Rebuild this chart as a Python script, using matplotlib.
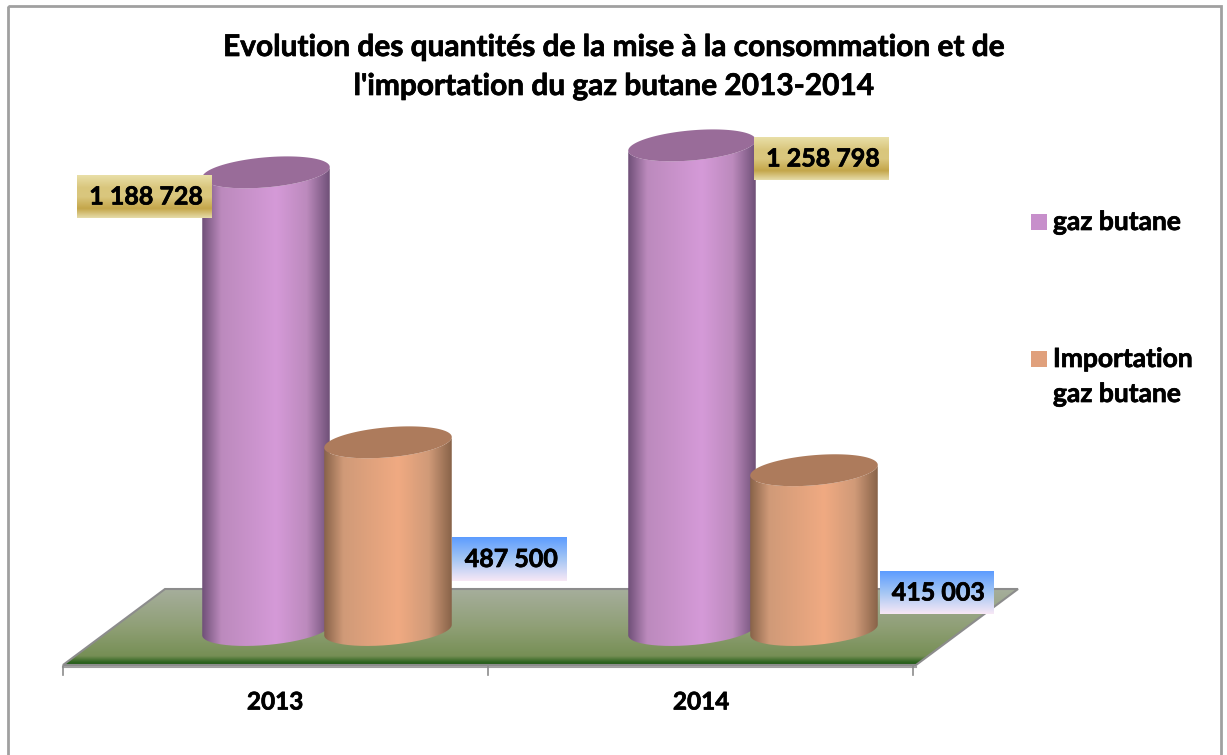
import matplotlib
matplotlib.use('Agg')
import matplotlib.pyplot as plt
import matplotlib.patheffects as pe
import numpy as np
from matplotlib.colors import LinearSegmentedColormap
from matplotlib.path import Path
from matplotlib.patches import PathPatch, Polygon, Rectangle

# --- Data ---
years = ['2013', '2014']
gaz_butane = [1188728, 1258798]
importation = [487500, 415003]

# --- Geometry (pixels of the 1227x755 picture) ---
W, H = 1227, 755
BASE_PX = 630       # where value 0 sits
PX_PER_UNIT = 0.000385
CAT_PX = [275, 701]  # category centres on the floor front edge
A, B, TILT = 64, 15, np.radians(5)

plt.rcParams['font.family'] = ['Lato', 'DejaVu Sans']
plt.rcParams['font.weight'] = 'bold'

fig = plt.figure(figsize=(W / 100, H / 100), dpi=100, facecolor='white')
THICK = [pe.withStroke(linewidth=0.5, foreground='black')]


def px_axes(z):
    a = fig.add_axes([0, 0, 1, 1], zorder=z)
    a.set_xlim(0, W)
    a.set_ylim(H, 0)
    a.axis('off')
    return a


def vgrad(a, x0, x1, y0, y1, stops, clip=None):
    cmap = LinearSegmentedColormap.from_list('g', stops)
    im = a.imshow(np.linspace(0, 1, 256).reshape(-1, 1), cmap=cmap, aspect='auto',
                  extent=[x0, x1, y1, y0], vmin=0, vmax=1, interpolation='bilinear')
    if clip is not None:
        im.set_clip_path(clip)
    return im


# --- Background layer: frame, floor, axis ---
bg = px_axes(1)
bg.add_patch(Rectangle((8, 6), 1213, 760, fill=False, ec='#a0a0a0', lw=2))

floor = Polygon([(63, 665), (165, 589), (1018, 589), (916, 665)], closed=True,
                fc='none', ec='#8c8c8c', lw=1.5, transform=bg.transData)
bg.add_patch(floor)
vgrad(bg, 63, 1018, 589, 666,
      [(0, '#a6ae9c'), (0.5, '#8f9f75'), (0.87, '#768f55'), (0.95, '#2e6420'), (1, '#1c5414')],
      clip=floor)
bg.set_xlim(0, W)
bg.set_ylim(H, 0)

bg.plot([63, 916], [666.5, 666.5], color='#a0a0a0', lw=1.5)
for tx in [63, 488, 913]:
    bg.plot([tx, tx], [666, 675], color='#8c8c8c', lw=1.2)
for px, year in zip(CAT_PX, years):
    bg.text(px, 702, year, ha='center', va='center', fontsize=17.5, color='black',
            path_effects=THICK)

# --- Cylinder layer, in value units ---
ax = fig.add_axes([0, 0, 1, 1], zorder=2)
ax.patch.set_visible(False)
ax.axis('off')
xlim = ((0 - CAT_PX[0]) / (CAT_PX[1] - CAT_PX[0]), (W - CAT_PX[0]) / (CAT_PX[1] - CAT_PX[0]))
ylim = ((BASE_PX - H) / PX_PER_UNIT, BASE_PX / PX_PER_UNIT)
PX_PER_CAT = CAT_PX[1] - CAT_PX[0]


def ellipse(t):
    # offsets in pixels, y down, right side raised by the tilt
    ex = A * np.cos(t) * np.cos(TILT) + B * np.sin(t) * np.sin(TILT)
    ey = -A * np.cos(t) * np.sin(TILT) + B * np.sin(t) * np.cos(TILT)
    return ex, ey


def cylinder(cat, shift_px, value, side, mid, cap, z):
    cx = cat + shift_px / PX_PER_CAT
    t_all = np.linspace(0, 2 * np.pi, 121)
    ex, ey = ellipse(t_all)
    i_r, i_l = np.argmax(ex), np.argmin(ex)
    t_r, t_l = t_all[i_r], t_all[i_l]
    t_low = np.linspace(t_r, t_l, 80)   # lower arc, right to left
    lx, ly = ellipse(t_low)
    to_x = lambda o: cx + o / PX_PER_CAT
    to_y = lambda o: -o / PX_PER_UNIT

    # body: lower arc of the base, then up the left side and along the top
    up_x = lx[::-1]
    up_y = ly[::-1]
    xs = np.concatenate([to_x(lx), to_x(up_x)])
    ys = np.concatenate([to_y(ly), value + to_y(up_y)])
    body = PathPatch(Path(np.column_stack([xs, ys]), closed=False), fc='none', ec='none',
                     transform=ax.transData, zorder=z)
    ax.add_patch(body)
    cmap = LinearSegmentedColormap.from_list(
        'c', [(0, side), (0.15, mid[0]), (0.58, mid[1]), (0.82, mid[0]), (1, side)])
    im = ax.imshow(np.linspace(0, 1, 256).reshape(1, -1), cmap=cmap, aspect='auto',
                   extent=[to_x(ex.min()), to_x(ex.max()), to_y(ly.max()), value + to_y(ly.min())],
                   vmin=0, vmax=1, zorder=z, interpolation='bilinear')
    im.set_clip_path(body)
    ax.add_patch(Polygon(np.column_stack([to_x(ex), value + to_y(ey)]), closed=True,
                         fc=cap, ec='none', zorder=z + 0.5))


for i in range(len(years)):
    cylinder(i, -9, gaz_butane[i], '#6f5078', ('#bc8abd', '#d59ad8'), '#996c99', 2)
    cylinder(i, 113, importation[i], '#886349', ('#d09a78', '#f0aa82'), '#ad7b5c', 3)

ax.set_xlim(*xlim)
ax.set_ylim(*ylim)

# --- Top layer: data labels, legend, title ---
top = px_axes(3)
GOLD = [(0, '#e9dfa8'), (0.3, '#d9c67c'), (0.5, '#dac77e'), (0.78, '#c4a64a'), (1, '#e6dcaa')]
BLUE = [(0, '#5c9cff'), (0.5, '#a4c6f4'), (1, '#f8e8f6')]
label_boxes = [(77, 212, 175, 218), (754, 889, 137, 180), (452, 567, 537, 581), (880, 994, 571, 614)]
label_values = gaz_butane + importation
label_stops = [GOLD, GOLD, BLUE, BLUE]
for (x0, x1, y0, y1), v, stops in zip(label_boxes, label_values, label_stops):
    vgrad(top, x0, x1, y0, y1, stops)
    top.text(x1 - 9, (y0 + y1) / 2 + 0.5, f'{v:,}'.replace(',', ' '), ha='right', va='center',
             fontsize=18, color='black', path_effects=THICK)

top.add_patch(Rectangle((1031, 214), 16, 16, fc='#c78fcb', ec='none'))
top.add_patch(Rectangle((1031, 351), 16, 16, fc='#e0a07c', ec='none'))
top.text(1053, 222, 'gaz butane', ha='left', va='center', fontsize=19, color='black', path_effects=THICK)
top.text(1053, 359, 'Importation', ha='left', va='center', fontsize=19, color='black', path_effects=THICK)
top.text(1053, 394, 'gaz butane', ha='left', va='center', fontsize=19, color='black', path_effects=THICK)

top.text(614, 47, 'Evolution des quantités de la mise à la consommation et de',
         ha='center', va='center', fontsize=21.5, color='black', path_effects=THICK)
top.text(614, 86, "l'importation du gaz butane 2013-2014",
         ha='center', va='center', fontsize=21.5, color='black', path_effects=THICK)
top.set_xlim(0, W)
top.set_ylim(H, 0)

fig.savefig('out.png', dpi=100)
